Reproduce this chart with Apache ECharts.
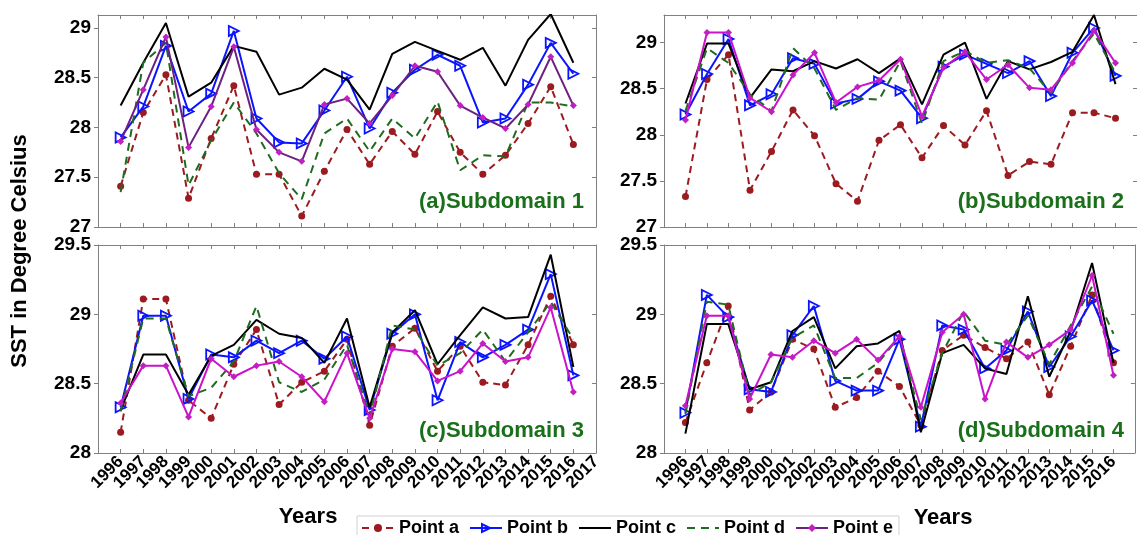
<!DOCTYPE html>
<html lang="en">
<head>
    <meta charset="UTF-8">
    <title>SST subdomains</title>
    <style>
        body{
            margin: 0;
            background-color: #ffffff;
        }
        #chart{
            width: 1137px;
            height: 535px;
        }
    </style>
</head>
<body>
<div id="chart"></div>
</body>
</html>
<script src="https://cdn.jsdelivr.net/npm/echarts@6/dist/echarts.min.js"></script>
<script>
    var years = [1996, 1997, 1998, 1999, 2000, 2001, 2002, 2003, 2004, 2005, 2006, 2007, 2008, 2009, 2010, 2011, 2012, 2013, 2014, 2015, 2016];
    // axis runs one year past the data on each side
    var axisYears = ['1995', '1996', '1997', '1998', '1999', '2000', '2001', '2002', '2003', '2004', '2005', '2006',
        '2007', '2008', '2009', '2010', '2011', '2012', '2013', '2014', '2015', '2016', '2017'];
    var pointNames = ['Point a', 'Point b', 'Point c', 'Point d', 'Point e'];
    var panelTitles = ['(a)Subdomain 1', '(b)Subdomain 2', '(c)Subdomain 3', '(d)Subdomain 4'];
    var yTicks = [[27, 29.13], [27, 29.3], [28, 29.5], [28, 29.5]];

    // subdomain 1
    var sub1_a = [27.41, 28.15, 28.53, 27.29, 27.89, 28.42, 27.53, 27.53, 27.11, 27.56, 27.98, 27.63, 27.96, 27.73, 28.16, 27.75, 27.53, 27.72, 28.04, 28.41, 27.83];
    var sub1_b = [27.90, 28.21, 28.82, 28.16, 28.34, 28.97, 28.09, 27.85, 27.84, 28.17, 28.51, 27.99, 28.35, 28.58, 28.73, 28.62, 28.05, 28.09, 28.43, 28.85, 28.54];
    var sub1_c = [28.22, 28.65, 29.05, 28.31, 28.45, 28.82, 28.76, 28.33, 28.40, 28.59, 28.48, 28.18, 28.74, 28.86, 28.77, 28.68, 28.80, 28.42, 28.88, 29.14, 28.65];
    var sub1_d = [27.35, 28.65, 28.85, 27.42, 27.87, 28.25, 27.94, 27.54, 27.28, 27.94, 28.09, 27.76, 28.09, 27.89, 28.26, 27.57, 27.72, 27.71, 28.25, 28.25, 28.21];
    var sub1_e = [27.86, 28.38, 28.91, 27.80, 28.21, 28.81, 27.98, 27.75, 27.66, 28.23, 28.29, 28.04, 28.32, 28.62, 28.56, 28.22, 28.10, 27.99, 28.23, 28.71, 28.22];
    // subdomain 2
    var sub2_a = [27.33, 28.60, 28.87, 27.40, 27.82, 28.27, 27.99, 27.47, 27.28, 27.94, 28.11, 27.75, 28.10, 27.89, 28.26, 27.56, 27.71, 27.68, 28.24, 28.24, 28.18];
    var sub2_b = [28.22, 28.66, 29.04, 28.32, 28.44, 28.83, 28.77, 28.34, 28.39, 28.58, 28.48, 28.18, 28.74, 28.87, 28.77, 28.67, 28.80, 28.42, 28.89, 29.16, 28.64];
    var sub2_c = [28.34, 28.99, 28.99, 28.40, 28.71, 28.69, 28.80, 28.72, 28.82, 28.67, 28.83, 28.33, 28.87, 29.00, 28.39, 28.80, 28.71, 28.79, 28.90, 29.30, 28.55];
    var sub2_d = [28.26, 28.94, 28.78, 28.44, 28.26, 28.94, 28.72, 28.27, 28.40, 28.38, 28.80, 28.12, 28.80, 28.91, 28.78, 28.81, 28.72, 28.45, 28.80, 29.10, 28.67];
    var sub2_e = [28.16, 29.11, 29.11, 28.40, 28.25, 28.65, 28.89, 28.35, 28.52, 28.59, 28.82, 28.20, 28.73, 28.90, 28.60, 28.76, 28.51, 28.49, 28.78, 29.13, 28.78];
    // subdomain 3
    var sub3_a = [28.15, 29.11, 29.11, 28.38, 28.25, 28.64, 28.89, 28.35, 28.51, 28.59, 28.82, 28.20, 28.77, 28.90, 28.59, 28.77, 28.51, 28.49, 28.78, 29.13, 28.78];
    var sub3_b = [28.33, 28.99, 28.99, 28.39, 28.71, 28.69, 28.81, 28.72, 28.81, 28.68, 28.84, 28.31, 28.86, 29.00, 28.38, 28.80, 28.69, 28.78, 28.89, 29.29, 28.56];
    var sub3_c = [28.31, 28.71, 28.71, 28.42, 28.70, 28.78, 28.96, 28.86, 28.83, 28.65, 28.97, 28.33, 28.87, 29.03, 28.64, 28.85, 29.05, 28.97, 28.98, 29.43, 28.62];
    var sub3_d = [28.30, 28.97, 28.97, 28.41, 28.47, 28.66, 29.06, 28.51, 28.44, 28.53, 28.78, 28.27, 28.92, 28.89, 28.63, 28.72, 28.89, 28.66, 28.87, 29.09, 28.82];
    var sub3_e = [28.36, 28.63, 28.63, 28.26, 28.68, 28.55, 28.63, 28.66, 28.55, 28.37, 28.72, 28.25, 28.75, 28.73, 28.52, 28.59, 28.79, 28.66, 28.69, 29.05, 28.44];
    // subdomain 4
    var sub4_a = [28.22, 28.65, 29.06, 28.31, 28.44, 28.82, 28.75, 28.33, 28.40, 28.59, 28.48, 28.20, 28.74, 28.85, 28.76, 28.68, 28.80, 28.42, 28.77, 29.14, 28.65];
    var sub4_b = [28.29, 29.14, 28.98, 28.46, 28.44, 28.85, 29.06, 28.52, 28.45, 28.45, 28.82, 28.19, 28.92, 28.89, 28.61, 28.74, 29.02, 28.62, 28.84, 29.10, 28.74];
    var sub4_c = [28.14, 28.93, 28.93, 28.46, 28.51, 28.88, 28.98, 28.61, 28.77, 28.79, 28.88, 28.15, 28.72, 28.78, 28.61, 28.57, 29.13, 28.55, 28.88, 29.37, 28.65];
    var sub4_d = [28.28, 29.09, 29.07, 28.42, 28.51, 28.83, 28.92, 28.54, 28.54, 28.65, 28.84, 28.24, 28.72, 29.02, 28.81, 28.78, 28.99, 28.64, 28.92, 29.20, 28.86];
    var sub4_e = [28.34, 28.99, 28.99, 28.39, 28.71, 28.69, 28.81, 28.72, 28.82, 28.67, 28.84, 28.33, 28.87, 29.00, 28.39, 28.80, 28.69, 28.78, 28.89, 29.28, 28.56];

    var panels = [
        [sub1_a, sub1_b, sub1_c, sub1_d, sub1_e],
        [sub2_a, sub2_b, sub2_c, sub2_d, sub2_e],
        [sub3_a, sub3_b, sub3_c, sub3_d, sub3_e],
        [sub4_a, sub4_b, sub4_c, sub4_d, sub4_e]
    ];

    var FONT = '"Liberation Sans", Arial, sans-serif';
    var RED = '#9b1b20', BLUE = '#0a14ff', GREEN = '#1f6b1f', TITLE_GREEN = '#1a701a';
    var AXIS_GRAY = '#808080';

    var grids = [
        {left: 98, top: 15, width: 498, height: 212},
        {left: 664, top: 15, width: 478, height: 212},
        {left: 98, top: 245, width: 498, height: 208},
        {left: 664, top: 245, width: 478, height: 208}
    ];

    var chart = echarts.init(document.getElementById('chart'));

    function pairs(vals) {
        return vals.map(function (v, i) {
            return [String(years[i]), v];
        });
    }

    function styleFor(k, p) {
        if (k === 0) {
            return {symbol: 'circle', symbolSize: 7, itemStyle: {color: RED},
                lineStyle: {color: RED, width: 2, type: [7, 5]}};
        }
        if (k === 1) {
            return {symbol: 'triangle', symbolRotate: -90, symbolSize: 10,
                itemStyle: {color: 'rgba(255,255,255,0)', borderColor: BLUE, borderWidth: 1.8},
                lineStyle: {color: BLUE, width: 2}};
        }
        if (k === 2) {
            return {symbol: 'none', itemStyle: {color: '#000'}, lineStyle: {color: '#000', width: 2}};
        }
        if (k === 3) {
            return {symbol: 'none', itemStyle: {color: GREEN}, lineStyle: {color: GREEN, width: 2, type: [8, 6]}};
        }
        return {symbol: 'diamond', symbolSize: 7, itemStyle: {color: '#c21fc2'},
            lineStyle: {color: p === 0 ? '#6e2080' : '#cc11cc', width: 2}};
    }

    function yearLabel(p) {
        return function (v) {
            if (v === '1995') return '';
            if (p === 3 && v === '2017') return '';
            return v;
        };
    }

    var xAxes = [], yAxes = [], series = [], titles = [];
    grids.forEach(function (g, p) {
        xAxes.push({
            type: 'category', gridIndex: p, data: axisYears, boundaryGap: false,
            axisLine: {show: true, lineStyle: {color: AXIS_GRAY}},
            axisTick: {show: true, inside: true, interval: 0, length: 4, lineStyle: {color: AXIS_GRAY}},
            splitLine: {show: false},
            axisLabel: {
                show: p >= 2, interval: 0, rotate: 45, margin: 6,
                color: '#000', fontWeight: 'bold', fontSize: 17, fontFamily: FONT,
                formatter: yearLabel(p)
            }
        });
        xAxes.push({
            type: 'category', gridIndex: p, position: 'top', data: axisYears, boundaryGap: false,
            axisLine: {show: true, lineStyle: {color: AXIS_GRAY}},
            axisTick: {show: true, inside: true, interval: 0, length: 4, lineStyle: {color: AXIS_GRAY}},
            splitLine: {show: false}, axisLabel: {show: false}
        });
        yAxes.push({
            type: 'value', gridIndex: p, min: yTicks[p][0], max: yTicks[p][1], interval: 0.5,
            axisLine: {show: true, lineStyle: {color: AXIS_GRAY}},
            axisTick: {show: true, length: 4, lineStyle: {color: AXIS_GRAY}},
            splitLine: {show: false},
            axisLabel: {
                margin: 7, showMaxLabel: p >= 2,
                color: '#000', fontWeight: 'bold', fontSize: 19, fontFamily: FONT,
                formatter: function (v) { return String(Math.round(v * 10) / 10); }
            }
        });
        yAxes.push({
            type: 'value', gridIndex: p, position: 'right', min: yTicks[p][0], max: yTicks[p][1], interval: 0.5,
            axisLine: {show: true, lineStyle: {color: AXIS_GRAY}},
            axisTick: {show: true, inside: true, length: 4, lineStyle: {color: AXIS_GRAY}},
            splitLine: {show: false}, axisLabel: {show: false}
        });

        panels[p].forEach(function (vals, k) {
            var s = styleFor(k, p);
            s.type = 'line';
            s.name = pointNames[k];
            s.xAxisIndex = p * 2;
            s.yAxisIndex = p * 2;
            s.data = pairs(vals);
            s.z = 2 + k;
            series.push(s);
        });

        titles.push({
            text: panelTitles[p],
            right: p % 2 === 0 ? 553 : 13,
            top: p < 2 ? 191 : 420,
            padding: 0,
            textStyle: {color: TITLE_GREEN, fontSize: 22, fontWeight: 'bold', fontFamily: FONT}
        });
    });

    // the plain lines get no marker in the legend
    var legendData = pointNames.map(function (n, k) {
        if (k === 2 || k === 3) return {name: n, itemStyle: {opacity: 0}};
        return {name: n};
    });

    var option = {
        animation: false,
        backgroundColor: '#ffffff',
        title: titles,
        grid: grids,
        xAxis: xAxes,
        yAxis: yAxes,
        series: series,
        legend: {
            data: legendData,
            left: 357, top: 516,
            padding: [3, 6, 10, 4],
            itemWidth: 32, itemHeight: 10, itemGap: 10,
            borderColor: '#d0d0d0', borderWidth: 1,
            backgroundColor: '#ffffff',
            textStyle: {color: '#000', fontSize: 18, fontWeight: 'bold', fontFamily: FONT}
        },
        graphic: [
            {type: 'text', x: 20, y: 251, rotation: Math.PI / 2,
                style: {text: 'SST in Degree Celsius', align: 'center', verticalAlign: 'middle',
                    font: 'bold 22px ' + FONT, fill: '#000'}},
            {type: 'text', x: 308, y: 517,
                style: {text: 'Years', align: 'center', verticalAlign: 'middle',
                    font: 'bold 22px ' + FONT, fill: '#000'}},
            {type: 'text', x: 943, y: 518,
                style: {text: 'Years', align: 'center', verticalAlign: 'middle',
                    font: 'bold 22px ' + FONT, fill: '#000'}}
        ]
    };
    chart.setOption(option);
</script>
